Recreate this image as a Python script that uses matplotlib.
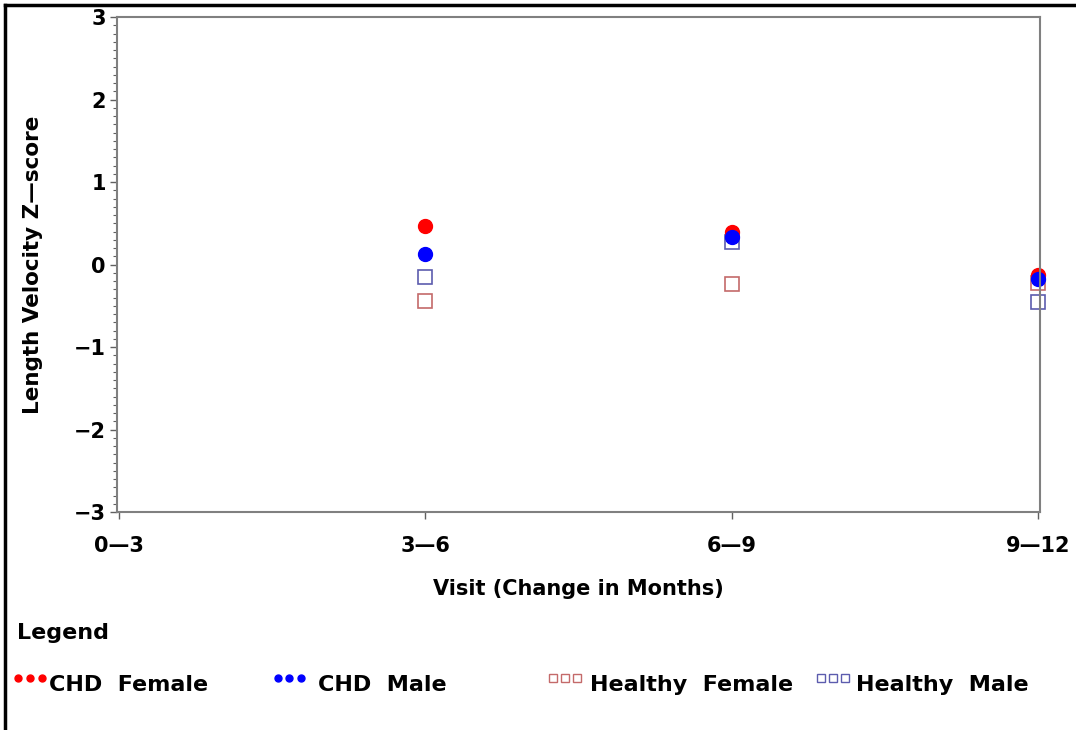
import matplotlib.pyplot as plt
from matplotlib.lines import Line2D
from matplotlib.ticker import MultipleLocator

plt.rcParams['font.family'] = ['DejaVu Sans']
plt.rcParams['font.weight'] = 'bold'

visits = ['0\u20143', '3\u20146', '6\u20149', '9\u201412']
x_pos = [1, 2, 3]  # 3-6, 6-9, 9-12

chd_female = [0.47, 0.39, -0.13]
chd_male = [0.13, 0.34, -0.17]
healthy_female = [-0.44, -0.23, -0.22]
healthy_male = [-0.15, 0.27, -0.46]

c_red = '#ff0000'
c_blue = '#0000ff'
c_hf = '#c46a6a'
c_hm = '#5c5cae'

fig = plt.figure(figsize=(10.76, 7.30), dpi=100)
ax = fig.add_axes([0.1087, 0.2986, 0.8578, 0.678])

# open squares first, filled dots on top
ax.plot(x_pos, healthy_female, 's', ms=10.5, mfc='none', mec=c_hf, mew=1.2, clip_on=False)
ax.plot(x_pos, healthy_male, 's', ms=10.5, mfc='none', mec=c_hm, mew=1.2, clip_on=False)
ax.plot(x_pos, chd_female, 'o', ms=10, color=c_red, mec=c_red, clip_on=False)
ax.plot(x_pos, chd_male, 'o', ms=10, color=c_blue, mec=c_blue, clip_on=False)

ax.set_xlim(-0.006, 3.006)
ax.set_ylim(-3, 3)
ax.set_xticks(range(len(visits)))
ax.set_xticklabels(visits)
ax.set_yticks([-3, -2, -1, 0, 1, 2, 3])
ax.set_yticklabels(['\u22123', '\u22122', '\u22121', '0', '1', '2', '3'])
ax.yaxis.set_minor_locator(MultipleLocator(0.1))

for s in ax.spines.values():
    s.set_color('#808080')
    s.set_linewidth(1.5)
ax.tick_params(axis='both', which='major', length=5, width=1, color='#606060',
               labelsize=15)
ax.tick_params(axis='y', which='major', pad=3)
ax.tick_params(axis='y', which='minor', length=3, width=0.8, color='#606060')
ax.tick_params(axis='x', pad=12)

ax.set_xlabel('Visit (Change in Months)', fontsize=15, fontweight='bold', labelpad=17)
ax.set_ylabel('Length Velocity Z\u2014score', fontsize=15.5, fontweight='bold', labelpad=22)

# legend block below the plot
fig.text(0.016, 0.133, 'Legend', fontsize=16, fontweight='bold', va='center')
entries = [
    ('CHD  Female', 'o', 5, c_red, 0.017, 0.046),
    ('CHD  Male', 'o', 5, c_blue, 0.258, 0.296),
    ('Healthy  Female', 's', 6, c_hf, 0.514, 0.548),
    ('Healthy  Male', 's', 6, c_hm, 0.763, 0.796),
]
for label, mk, size, col, xm, xt in entries:
    xs = [xm + i * 0.011 for i in range(3)]
    if mk == 'o':
        style = dict(marker=mk, ms=size, color=col, mec=col, ls='none')
    else:
        style = dict(marker=mk, ms=size, mfc='none', mec=col, mew=1, ls='none')
    fig.add_artist(Line2D(xs, [0.071] * 3, transform=fig.transFigure, **style))
    fig.text(xt, 0.062, label, fontsize=16, fontweight='bold', va='center')

# outer frame (top and left edges)
fig.add_artist(Line2D([0.005, 0.005], [0.0, 0.993], transform=fig.transFigure,
                      color='black', lw=2.5))
fig.add_artist(Line2D([0.005, 1.0], [0.993, 0.993], transform=fig.transFigure,
                      color='black', lw=2.5))

fig.savefig('out.png', dpi=100)
